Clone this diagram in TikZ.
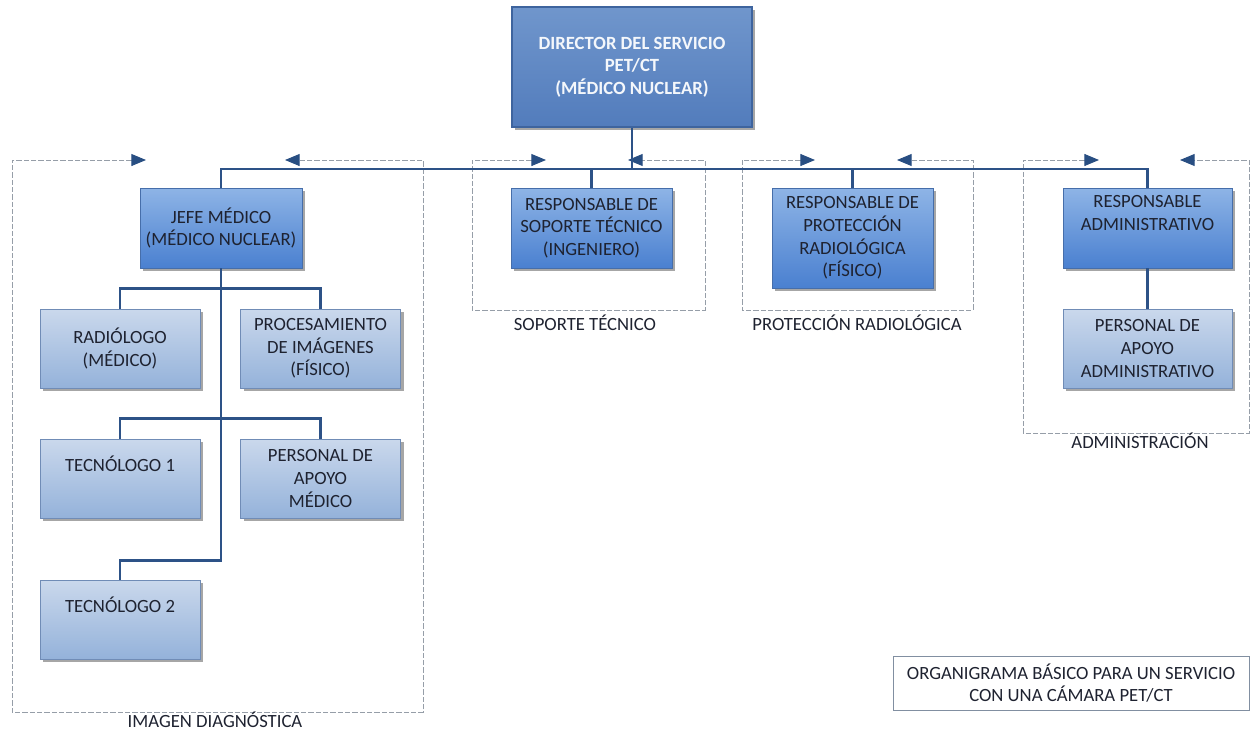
\documentclass[tikz,border=0pt]{standalone}
\usepackage{fontspec}
\setmainfont{Carlito}
\usetikzlibrary{shadows,arrows.meta}

\definecolor{linea}{RGB}{45,82,135}
\definecolor{flecha}{RGB}{40,78,130}
\definecolor{gris}{RGB}{150,158,168}
\definecolor{dirtop}{RGB}{112,150,204}
\definecolor{dirbot}{RGB}{82,124,188}
\definecolor{dirborde}{RGB}{62,100,158}
\definecolor{medtop}{RGB}{142,180,230}
\definecolor{medbot}{RGB}{74,128,208}
\definecolor{medborde}{RGB}{70,110,170}
\definecolor{bajtop}{RGB}{202,216,236}
\definecolor{bajbot}{RGB}{148,178,218}
\definecolor{bajborde}{RGB}{112,140,182}
\definecolor{texto}{RGB}{30,34,48}

\begin{document}
\begin{tikzpicture}[x=0.75pt,y=-0.75pt,
    font=\fontsize{14}{17}\selectfont,
    sombra/.style={drop shadow={shadow xshift=2.5pt,shadow yshift=-2.5pt,fill=black,opacity=0.35}},
    director/.style={draw=dirborde,line width=1pt,top color=dirtop,bottom color=dirbot,text=white!92!dirtop,
      font=\fontsize{14}{17}\selectfont\bfseries,align=center,inner sep=1pt,sombra},
    jefe/.style={draw=medborde,line width=0.6pt,top color=medtop,bottom color=medbot,text=texto,
      align=center,inner sep=1pt,sombra},
    staff/.style={draw=bajborde,line width=0.6pt,top color=bajtop,bottom color=bajbot,text=texto,
      align=center,inner sep=1pt,sombra},
    conector/.style={draw=linea,line width=2.2pt},
    punta/.tip={Triangle[length=11pt,width=9pt,color=flecha]},
    grupo/.style={draw=gris,line width=0.75pt,dash pattern=on 4pt off 1.5pt,punta-punta},
    etiqueta/.style={text=texto,inner sep=0.5pt}]

    \useasboundingbox (0,0) rectangle (1252,732);

    \node[director,minimum width=180pt,minimum height=90pt] (dir) at (632,67)
      {DIRECTOR DEL SERVICIO\\PET/CT\\(MÉDICO NUCLEAR)};

    \coordinate (bus) at (632,169);



    \draw[grupo] (146,160) -- (12,160) -- (12,712) -- (423,712) -- (423,160) -- (285,160);

    \draw[grupo] (546,160) -- (472,160) -- (472,310) -- (705,310) -- (705,160) -- (628,160);

    \draw[grupo] (815,160) -- (742,160) -- (742,310) -- (973,310) -- (973,160) -- (897,160);

    \draw[grupo] (1099,160) -- (1023,160) -- (1023,433) -- (1249,433) -- (1249,160) -- (1180,160);



    \node[jefe,minimum width=121.5pt,minimum height=60pt] (jef) at (221,228)
      {JEFE MÉDICO\\(MÉDICO NUCLEAR)};

    \node[jefe,minimum width=120.75pt,minimum height=60pt] (sop) at (591.5,228)
      {RESPONSABLE DE\\SOPORTE TÉCNICO\\(INGENIERO)};

    \node[jefe,minimum width=120.75pt,minimum height=75pt] (prot) at (852.5,238)
      {RESPONSABLE DE\\PROTECCIÓN\\RADIOLÓGICA\\(FÍSICO)};

    \node[jefe,minimum width=126.75pt,minimum height=60pt] (adm) at (1147.5,228)
      {RESPONSABLE\\ADMINISTRATIVO\\\strut};



    \node[staff,minimum width=120pt,minimum height=59.25pt] (rad) at (120,348.5)
      {RADIÓLOGO\\(MÉDICO)};

    \node[staff,minimum width=120pt,minimum height=59.25pt] (proc) at (320.5,348.5)
      {PROCESAMIENTO\\DE IMÁGENES\\(FÍSICO)};

    \node[staff,minimum width=120pt,minimum height=59.25pt] (tec1) at (120,478.5)
      {TECNÓLOGO 1\\\strut};

    \node[staff,minimum width=120pt,minimum height=59.25pt] (pam) at (320.5,478.5)
      {PERSONAL DE\\APOYO\\MÉDICO};

    \node[staff,minimum width=120pt,minimum height=59.25pt] (tec2) at (120,619.5)
      {TECNÓLOGO 2\\\strut};

    \node[staff,minimum width=126.75pt,minimum height=59.25pt] (padm) at (1147.5,348.5)
      {PERSONAL DE\\APOYO\\ADMINISTRATIVO};



    \draw[conector] (dir.south) -- (bus);

    \draw[conector] (jef.north) |- (bus) -| (adm.north);

    \draw[conector] (sop.north) -- (sop.north |- bus);

    \draw[conector] (prot.north) -- (prot.north |- bus);

    \draw[conector] (adm.south) -- (padm.north);

    \draw[conector] (jef.south) -- ++(0,292) -| (tec2.north);

    \draw[conector] (rad.north) -- ++(0,-20) -| (proc.north);

    \draw[conector] (tec1.north) -- ++(0,-20) -| (pam.north);



    \node[etiqueta] (limg) at (215,720) {IMAGEN DIAGNÓSTICA};

    \node[etiqueta] (lsop) at (585,323) {SOPORTE TÉCNICO};

    \node[etiqueta] (lprot) at (857,323) {PROTECCIÓN RADIOLÓGICA};

    \node[etiqueta] (ladm) at (1140,441) {ADMINISTRACIÓN};

    \node[draw=gris!80!linea,line width=0.6pt,text=texto,align=center,
      minimum width=267pt,minimum height=40.5pt] (nota) at (1071,683)
      {ORGANIGRAMA BÁSICO PARA UN SERVICIO\\CON UNA CÁMARA PET/CT};

\end{tikzpicture}
\end{document}
